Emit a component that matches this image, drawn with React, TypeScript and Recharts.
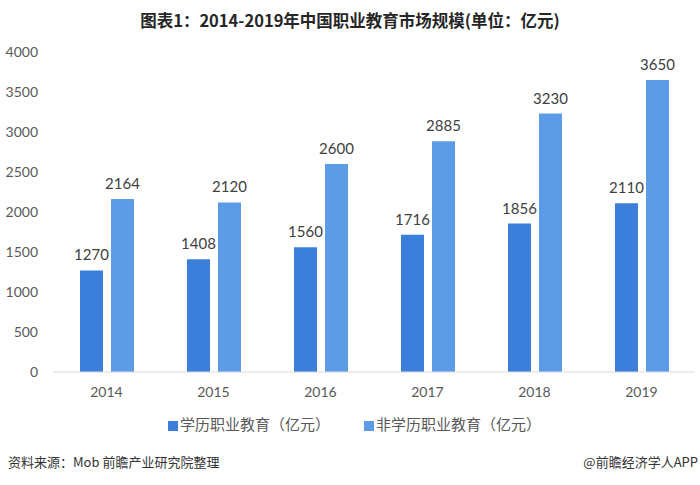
import React from "react";
import { BarChart, Bar, XAxis, YAxis, Legend, LabelList } from "recharts";

const years = ["2014", "2015", "2016", "2017", "2018", "2019"];
const academicValues = [1270, 1408, 1560, 1716, 1856, 2110];
const nonAcademicValues = [2164, 2120, 2600, 2885, 3230, 3650];
const yTicks = [0, 500, 1000, 1500, 2000, 2500, 3000, 3500, 4000];
const seriesNames = ["学历职业教育（亿元）", "非学历职业教育（亿元）"];
const colors = ["#3b7fdb", "#5c9be6"];

const data = years.map((y, i) => ({
  year: y,
  academic: academicValues[i],
  nonAcademic: nonAcademicValues[i],
}));

const numFont = "Lato, 'Open Sans', sans-serif";
const cjkFont = "'Noto Sans CJK SC', 'Noto Sans', sans-serif";

const LegendContent = () => (
  <div style={{ display: "flex", justifyContent: "flex-start", paddingLeft: 168, fontFamily: cjkFont, fontSize: 15, color: "#595959", lineHeight: "20px" }}>
    {seriesNames.map((n, i) => (
      <div key={n} style={{ display: "flex", alignItems: "center", marginRight: i === 0 ? 34 : 0 }}>
        <span style={{ display: "inline-block", width: 10, height: 10, background: colors[i], marginRight: 2, marginTop: 3 }} />
        <span>{n}</span>
      </div>
    ))}
  </div>
);

export default function App() {
  return (
    <div style={{ position: "absolute", top: 0, left: 0, width: 700, height: 485, background: "#fff", overflow: "hidden" }}>
      <div style={{ position: "absolute", top: 9, left: 0, width: 700, textAlign: "center", fontFamily: cjkFont, fontWeight: 700, fontSize: 16.5, color: "#262626", lineHeight: "22px" }}>
        图表1：2014-2019年中国职业教育市场规模(单位：亿元)
      </div>
      <BarChart
        width={700}
        height={485}
        data={data}
        margin={{ top: 52, right: 5, left: 0, bottom: 83 }}
        barSize={23}
        barGap={8}
      >
        <YAxis
          width={53}
          domain={[0, 4000]}
          ticks={yTicks}
          axisLine={false}
          tickLine={false}
          tickSize={0}
          tickMargin={15}
          tick={{ fill: "#595959", fontSize: 14, fontFamily: numFont }}
        />
        <XAxis
          dataKey="year"
          height={30}
          axisLine={{ stroke: "#d9d9d9" }}
          tickLine={false}
          tickSize={0}
          tickMargin={15}
          tick={{ fill: "#595959", fontSize: 14, fontFamily: numFont }}
        />
        <Legend
          layout="horizontal"
          verticalAlign="middle"
          align="center"
          content={<LegendContent />}
          wrapperStyle={{ top: 414, left: 0, width: 700 }}
        />
        <Bar dataKey="academic" name={seriesNames[0]} fill={colors[0]} isAnimationActive={false}>
          <LabelList dataKey="academic" position="top" offset={10} fill="#404040" fontSize={15} fontFamily={numFont} />
        </Bar>
        <Bar dataKey="nonAcademic" name={seriesNames[1]} fill={colors[1]} isAnimationActive={false}>
          <LabelList dataKey="nonAcademic" position="top" offset={10} fill="#404040" fontSize={15} fontFamily={numFont} />
        </Bar>
      </BarChart>
      <div style={{ position: "absolute", top: 453, left: 8, fontFamily: cjkFont, fontSize: 13, color: "#333", lineHeight: "18px" }}>
        资料来源：Mob 前瞻产业研究院整理
      </div>
      <div style={{ position: "absolute", top: 453, right: 2, fontFamily: cjkFont, fontSize: 13, color: "#333", lineHeight: "18px" }}>
        @前瞻经济学人APP
      </div>
    </div>
  );
}
